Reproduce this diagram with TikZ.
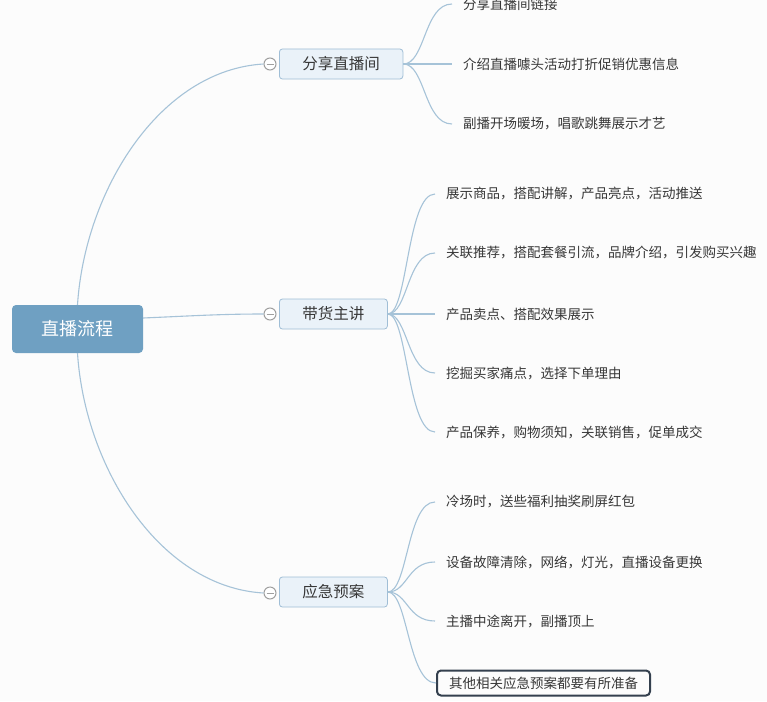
\documentclass[tikz,border=0pt]{standalone}
\usepackage{fontspec}
\setmainfont{Noto Sans CJK SC}
\definecolor{linec}{RGB}{166,195,216}
\definecolor{rootc}{RGB}{111,160,194}
\definecolor{branchfill}{RGB}{234,242,249}
\definecolor{branchdraw}{RGB}{160,190,214}
\definecolor{txt}{RGB}{55,55,55}
\definecolor{bg}{RGB}{252,252,252}
\definecolor{selc}{RGB}{52,64,78}
\tikzset{
  x=1pt, y=-1pt,
  rootbox/.style={fill=rootc, rounded corners=4pt, minimum width=131pt, minimum height=48pt, text=white, font=\fontsize{18}{20}\selectfont, inner sep=0pt},
  branchbox/.style={fill=branchfill, draw=branchdraw, line width=0.8pt, rounded corners=3pt, minimum height=30pt, inner xsep=23pt, inner ysep=0pt, text=txt, font=\fontsize{15.5}{17}\selectfont},
  leaf/.style={anchor=west, inner xsep=11pt, inner ysep=2pt, text=txt, font=\fontsize{13.5}{15}\selectfont},
  selleaf/.style={anchor=west, draw=selc, line width=2pt, rounded corners=4pt, minimum height=25pt, inner xsep=12pt, inner ysep=0pt, text=txt, font=\fontsize{13.5}{15}\selectfont},
  tog/.style={circle, draw=gray!75, fill=white, line width=1pt, minimum size=12pt, inner sep=0pt},
  conn/.style={draw=linec, line width=1.1pt},
}
\begin{document}
\begin{tikzpicture}
\useasboundingbox (0,0) rectangle (767,701);
\fill[bg] (0,0) rectangle (767,701);
\clip (0,0) rectangle (767,701);

% root
\node[rootbox] (root) at (77.5,329) {直播流程};
\coordinate (rootout) at (143,318);

% branches
\node[branchbox, anchor=west] (b1) at (279,64) {分享直播间};
\node[branchbox, anchor=west] (b2) at (279,314) {带货主讲};
\node[branchbox, anchor=west] (b3) at (279,592) {应急预案};

\node[tog] (t1) at (270,64) {};
\node[tog] (t2) at (270,314) {};
\node[tog] (t3) at (270,593) {};

% root connectors
\draw[conn] (root.north) .. controls (85,190) and (160,70) .. (t1.west);
\draw[conn] (rootout) .. controls (190,316) and (220,314) .. (t2.west);
\draw[conn] (root.south) .. controls (85,468) and (160,587) .. (t3.west);

% toggles minus
\foreach \t in {t1,t2,t3}{
  \draw[gray!75, line width=1pt] ([xshift=-3.5pt]\t.center) -- ([xshift=3.5pt]\t.center);
}

% leaves of b1
\node[leaf] (l11) at (452,4) {分享直播间链接};
\node[leaf] (l12) at (452,64) {介绍直播噱头活动打折促销优惠信息};
\node[leaf] (l13) at (452,124) {副播开场暖场，唱歌跳舞展示才艺};

% leaves of b2
\node[leaf] (l21) at (435,194) {展示商品，搭配讲解，产品亮点，活动推送};
\node[leaf] (l22) at (435,253) {关联推荐，搭配套餐引流，品牌介绍，引发购买兴趣};
\node[leaf] (l23) at (435,314) {产品卖点、搭配效果展示};
\node[leaf] (l24) at (435,373) {挖掘买家痛点，选择下单理由};
\node[leaf] (l25) at (435,432) {产品保养，购物须知，关联销售，促单成交};

% leaves of b3
\node[leaf] (l31) at (435,502) {冷场时，送些福利抽奖刷屏红包};
\node[leaf] (l32) at (435,562) {设备故障清除，网络，灯光，直播设备更换};
\node[leaf] (l33) at (435,621) {主播中途离开，副播顶上};
\node[selleaf] (l34) at (436,683) {其他相关应急预案都要有所准备};

% leaf connectors
\foreach \l in {l11,l12,l13}{
  \draw[conn] (b1.east) .. controls +(22,0) and +(-28,0) .. (\l.west);
}
\foreach \l in {l21,l22,l23,l24,l25}{
  \draw[conn] (b2.east) .. controls +(20,0) and +(-28,0) .. (\l.west);
}
\foreach \l in {l31,l32,l33,l34}{
  \draw[conn] (b3.east) .. controls +(20,0) and +(-28,0) .. (\l.west);
}
\end{tikzpicture}
\end{document}
